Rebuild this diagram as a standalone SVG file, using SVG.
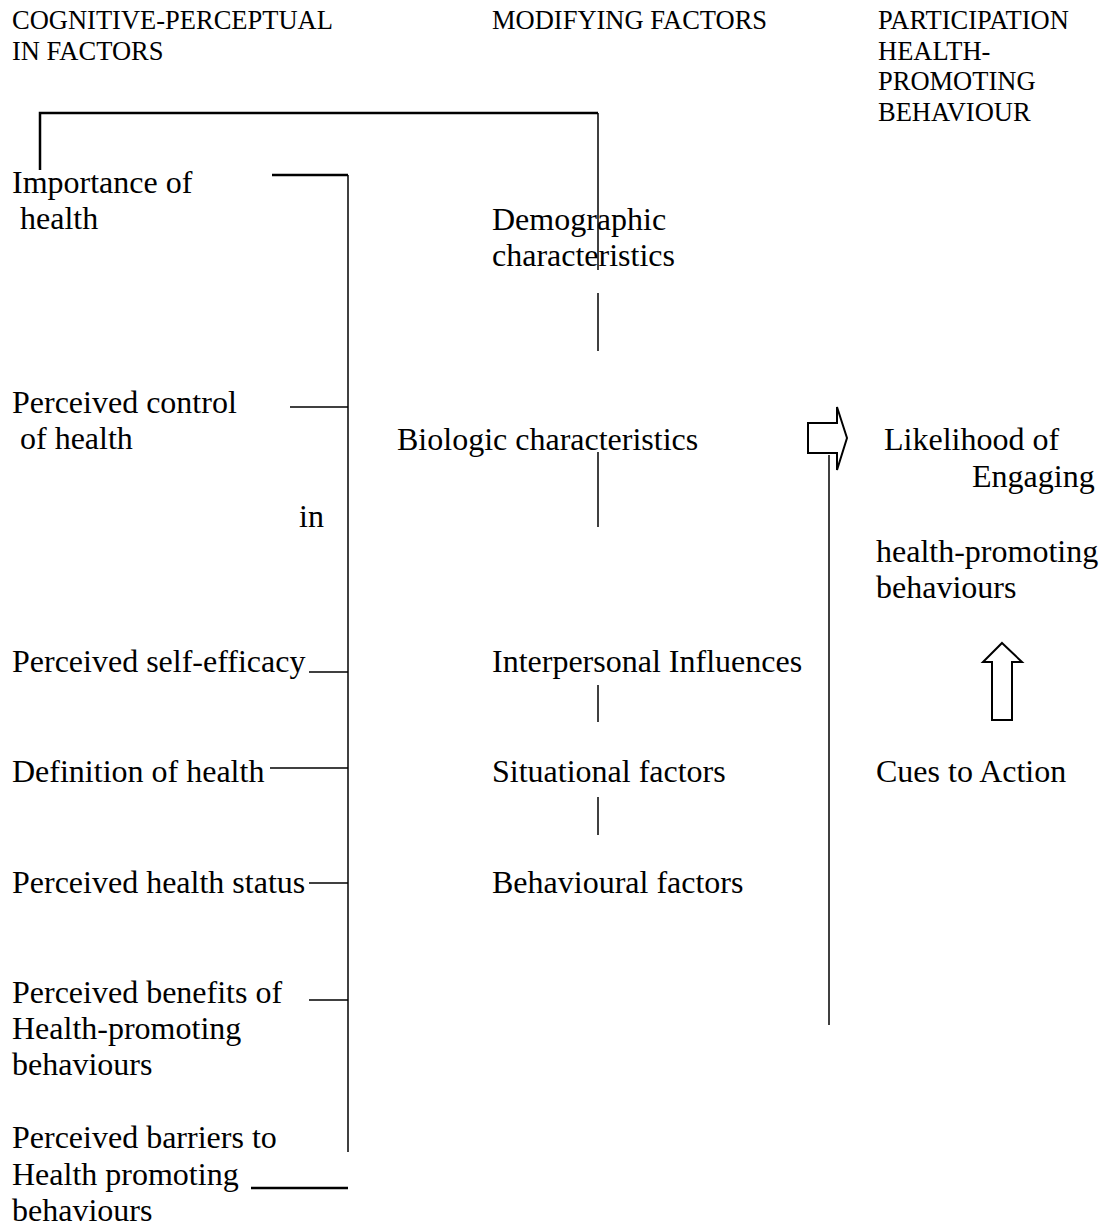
<svg xmlns="http://www.w3.org/2000/svg" width="1108" height="1227" viewBox="0 0 1108 1227">
<style>
text{font-family:"Liberation Serif","Times New Roman",serif;fill:#000}
.h{font-size:26.5px}
.b{font-size:32px}
.ln{stroke:#000;stroke-width:1.5;fill:none}
.th{stroke:#000;stroke-width:2.5;fill:none}
.blk{stroke:#000;stroke-width:2;fill:#fff;stroke-linejoin:miter}
</style>
<rect width="1108" height="1227" fill="#fff"/>
<g id="headers">
<text class="h" x="12" y="29">COGNITIVE-PERCEPTUAL</text>
<text class="h" x="12" y="60">IN FACTORS</text>
<text class="h" x="492" y="29">MODIFYING FACTORS</text>
<text class="h" x="878" y="29">PARTICIPATION</text>
<text class="h" x="878" y="60">HEALTH-</text>
<text class="h" x="878" y="90">PROMOTING</text>
<text class="h" x="878" y="121">BEHAVIOUR</text>
</g>
<g id="connectors">
<path class="th" d="M40 170V113H598"/>
<path class="ln" d="M598 113V270"/>
<path class="th" d="M272 175H348"/>
<path class="ln" d="M348 175V1152"/>
<path class="ln" d="M598 293V351"/>
<path class="ln" d="M290 407H348"/>
<path class="ln" d="M598 452V527"/>
<path class="ln" d="M309 672H348"/>
<path class="ln" d="M270 768H348"/>
<path class="ln" d="M309 883H348"/>
<path class="ln" d="M309 1000H348"/>
<path class="th" d="M251 1188H348"/>
<path class="ln" d="M598 685V722"/>
<path class="ln" d="M598 797V835"/>
<path class="ln" d="M829 455V1025"/>
<polygon class="blk" points="808,423 837,423 837,407 847,438 837,470 837,453 808,453"/>
<polygon class="blk" points="1002,643 1022,662 1012,662 1012,720 992,720 992,662 983,662"/>
</g>
<g id="importance"><text class="b" x="12" y="193">Importance of</text><text class="b" x="12" y="229" xml:space="preserve"> health</text></g>
<g id="control"><text class="b" x="12" y="413">Perceived control</text><text class="b" x="12" y="449" xml:space="preserve"> of health</text></g>
<g id="in"><text class="b" x="299" y="527">in</text></g>
<g id="selfefficacy"><text class="b" x="12" y="672">Perceived self-efficacy</text></g>
<g id="definition"><text class="b" x="12" y="782">Definition of health</text></g>
<g id="status"><text class="b" x="12" y="893">Perceived health status</text></g>
<g id="benefits"><text class="b" x="12" y="1003">Perceived benefits of</text><text class="b" x="12" y="1039">Health-promoting</text><text class="b" x="12" y="1075">behaviours</text></g>
<g id="barriers"><text class="b" x="12" y="1148">Perceived barriers to</text><text class="b" x="12" y="1185">Health promoting</text><text class="b" x="12" y="1221">behaviours</text></g>
<g id="demographic"><text class="b" x="492" y="230">Demographic</text><text class="b" x="492" y="266">characteristics</text></g>
<g id="biologic"><text class="b" x="397" y="450">Biologic characteristics</text></g>
<g id="interpersonal"><text class="b" x="492" y="672">Interpersonal Influences</text></g>
<g id="situational"><text class="b" x="492" y="782">Situational factors</text></g>
<g id="behavioural"><text class="b" x="492" y="893">Behavioural factors</text></g>
<g id="likelihood"><text class="b" x="884" y="450">Likelihood of</text><text class="b" x="972" y="487">Engaging</text><text class="b" x="876" y="562">health-promoting</text><text class="b" x="876" y="598">behaviours</text></g>
<g id="cues"><text class="b" x="876" y="782">Cues to Action</text></g>
</svg>
